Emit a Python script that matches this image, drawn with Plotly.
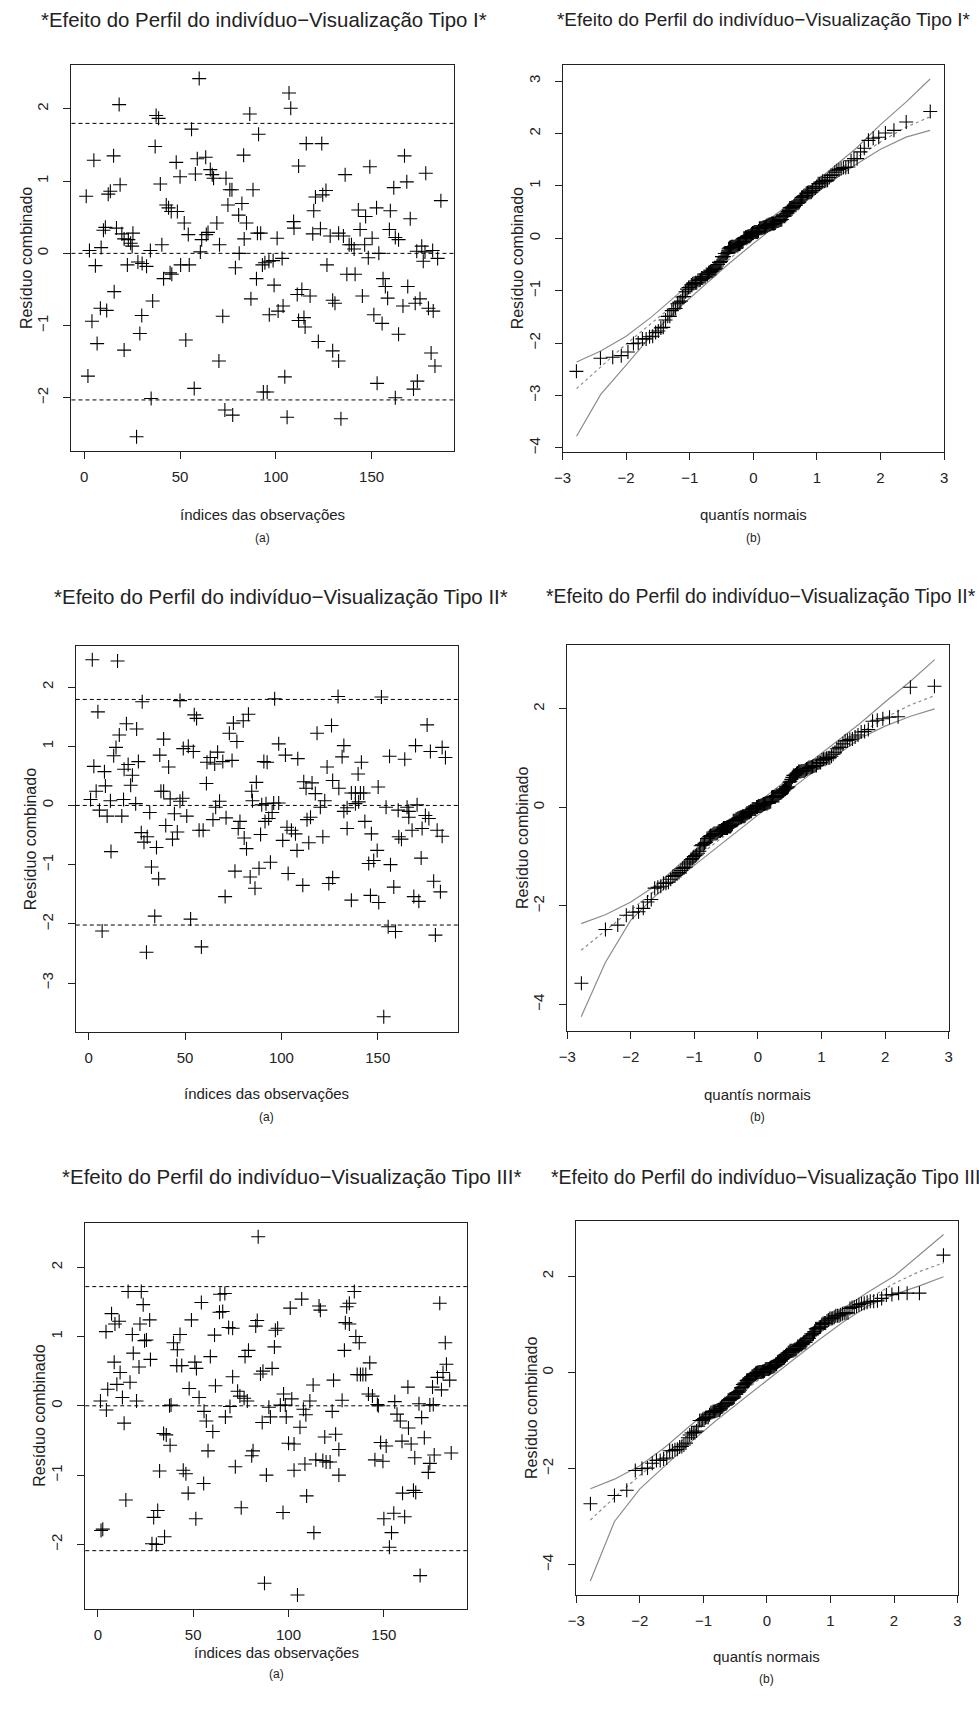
import plotly.graph_objects as go
from statistics import NormalDist

# ---------------- data ----------------
# Tipo I : (índice, resíduo)
pts_I = [(1,0.79),(1.9,-1.70),(2.7,0.04),(4,-0.94),(5,1.29),(5.8,-0.17),(6.7,-1.25),(8.4,-0.76),(8.8,0.08),(10,0.32),
 (11,0.36),(11.7,-0.79),(12.5,0.82),(13.6,0.86),(15.3,1.35),(15.6,-0.53),(16.8,0.35),(18.2,2.06),(18.7,0.95),(19.6,0.27),
 (20.8,-1.34),(20.8,0.20),(22.5,-0.16),(23,0.19),(24.2,0.14),(25.4,0.28),(25,0.10),(27.3,-2.54),(28,-0.12),(29,-1.11),
 (30,-0.86),(30.2,-0.14),(32.5,-0.18),(34.5,0.04),(34.9,-2.01),(35.7,-0.66),(37,1.48),(37.5,1.91),(38.8,1.87),(39.7,0.96),
 (40.5,0.12),(41.4,-0.35),(42.8,0.67),(44,0.63),(44.8,-0.27),(45.7,-0.29),(45.4,0.58),(48,1.26),(48.6,0.58),(50,1.06),
 (50.3,-0.16),(52.2,0.42),(53,-1.20),(54.3,0.26),(54.8,-0.16),(56,1.72),(57.4,-1.87),(58,1.10),(59,1.31),(60,2.42),
 (60.6,0.02),(61.3,0.19),(63.4,1.33),(63.7,0.26),(64.6,0.29),(65.8,1.16),(66.8,1.09),(67.5,1.04),(69.2,0.42),(70.6,0.12),
 (70.3,-1.49),(72.3,-0.87),(73.4,-2.17),(74,1.04),(75,0.67),(76,0.88),(77.5,-2.24),(77.1,0.88),(78.9,-0.20),(80.6,0.53),
 (80.9,0.0),(82.3,0.69),(83.2,1.36),(83.5,0.20),(84.7,0.42),(86.4,1.93),(87,-0.63),(88.1,0.88),(89.9,-0.35),(90.4,0.28),
 (91,1.65),(92.1,0.28),(93,-0.16),(93.5,-1.92),
 (94.3,-0.13),(96.4,-0.11),(98.6,-0.10),(103.3,-0.07),(100.7,0.21),(99.1,-0.44),(96.6,-0.85),(101.2,-0.80),(103.8,-0.73),(95.5,-1.92),
 (104.7,-1.71),(105.9,-2.27),(106.9,2.22),(107.8,2.01),(111.9,1.21),(109.3,0.44),(109.5,0.35),(111.2,-0.57),(113.6,-0.50),(117.9,-0.59),
 (111.9,-0.93),(114.7,-0.89),(115.3,-1.02),(115.9,1.52),(124,1.52),(119.3,0.27),(119.8,0.59),(120.7,0.78),(124.5,0.81),(126.2,0.87),
 (123.3,0.34),(122.2,-1.22),(126.7,-0.16),(128.4,0.24),(132.8,0.28),(135.3,0.24),(138.3,0.12),(139.5,0.12),(140.9,0.06),(129.7,-0.65),
 (130.9,-0.69),(129.7,-1.35),(132.8,-1.49),(134,-2.29),(136.2,1.09),(137.1,-0.29),(141.4,-0.29),(143.1,0.60),(146.9,0.51),(144,0.33),
 (146.4,0.12),(148.3,-0.06),(150.3,0.21),(145.2,-0.59),(149.1,1.20),(152.6,0.63),(151.2,-0.85),(155.5,-0.97),(152.9,-1.80),(153.8,0.0),
 (156,-0.35),(157.2,-0.46),(158.4,-0.62),(159.8,0.59),(161.6,0.91),(159.3,0.33),(162.4,0.22),(164.1,0.19),(162.4,-2.00),(164.1,-1.12),
 (166.4,-0.73),(167.2,1.35),(168.4,0.99),(168.9,-0.46),(170.2,0.48),(171.9,-1.88),(173.9,-1.77),(172.8,-0.69),(175.3,-0.63),(173.6,0.03),
 (176.2,0.10),(177.9,0.02),(177,-0.11),(178.3,1.11),(179.7,-0.76),(182.2,-0.80),(181.1,-1.38),(183.1,-1.56),(181.9,0.04),(184.5,-0.07),
 (186.2,0.73)]

# Tipo II
pts_II = [(1.9,2.46),(15,2.44),(4.8,1.58),(2.7,0.66),(1,0.10),(3.9,0.24),(5.6,-0.08),(8.2,0.57),(8.7,0.33),(7,-2.12),
 (9.6,-0.18),(11.3,0.08),(11.6,-0.78),(13,0.84),(14.2,0.98),(15.9,1.19),(17.2,-0.18),(18.1,0.10),(18.4,0.61),(19.6,1.38),
 (20.5,0.69),(21.8,0.34),(22.7,0.51),(24.4,0.03),(24.9,1.29),(25.8,0.74),(27.3,-0.46),(28.7,-0.62),(30.4,-0.53),(35.2,-0.71),
 (27.8,1.75),(30,-2.48),(31.7,-0.12),(32.6,-1.04),(34.3,-1.87),(36.3,-1.24),(36.9,0.85),(37.5,0.24),(38.9,0.24),(38.9,1.12),
 (40,-0.34),(41.5,0.65),(42.3,0.11),(43.5,-0.57),(44.5,-0.14),(46,-0.45),(47.4,1.77),(47.4,0.07),(48.8,0.12),(49.1,0.96),
 (50.9,-0.18),(51.7,1.0),(52.9,-1.92),(54.3,0.91),(54.8,1.53),(56,1.47),(57.3,-0.42),(58.5,-2.39),(59.4,-0.42),(61.1,0.37),
 (61.4,0.73),(63.1,0.81),(64.5,-0.24),(65.4,0.70),(65.9,-0.03),(66.9,0.90),(67.9,0.07),(69.6,0.74),(70.8,-1.54),(71.3,-0.21),
 (73,1.22),(74.4,0.76),(75.1,1.39),(75.9,-1.11),(76.9,1.08),(78.5,-0.27),(77.6,-0.39),(80.2,1.43),(80.7,-0.55),(81.9,-0.73),
 (82.9,1.54),(83.8,-1.21),(84.6,0.24),(85,0.08),(86.3,-1.40),(87,0.39),(88.4,-1.06),(89.2,-0.49),(89.8,0.01),(90.9,0.74),
 (91.5,-0.27),
 (94.3,-0.96),(92,0.03),(96,0.04),(98.6,0.04),(93.4,-0.22),(95.2,-0.12),(96.5,1.80),(98.6,1.04),(92.6,0.73),(102.1,0.85),
 (108.5,0.79),(100.7,-0.59),(102.9,-0.37),(105.2,-0.42),(107.3,-0.48),(108.1,-0.76),(103.5,-1.15),(111.1,-1.35),(114.2,-0.63),(113.3,-0.24),
 (115.1,-0.20),(111.6,0.40),(112.8,0.29),(115.9,0.38),(117.6,0.20),(118.5,1.22),(120.2,-0.03),(122.5,0.08),(121.5,-0.53),(123.7,0.65),
 (126,1.35),(126.6,0.42),(129.8,0.29),(124.6,-1.32),(126.6,-1.22),(129.4,1.84),(131.5,0.82),(132.4,1.01),(132.4,-0.10),(134.1,-0.04),
 (134.1,-0.39),(136.3,-1.60),(136.3,0.21),(138.4,0.21),(139.8,0.53),(141.5,0.73),(138.4,0.03),(140.1,0.06),(141,0.21),(142.7,0.21),
 (143.3,-0.27),(146.7,-0.48),(150.2,0.31),(146.2,-1.52),(150.5,-1.64),(145.3,-0.98),(147.9,-0.93),(149.7,-0.76),(151.9,1.83),(153.1,-3.57),
 (154.3,-0.03),(155.4,-2.05),(159.2,-2.13),(156.6,-1.00),(156.1,0.83),(158.3,-1.38),(160.6,-0.08),(160.9,-0.53),(162.3,-0.57),(164,0.78),
 (165.2,-0.03),(166.1,-0.10),(166.1,-0.20),(167.8,-0.42),(169.6,1.01),(168.7,-1.54),(170.4,0.01),(171.3,-1.62),(172.5,-0.89),(173,-0.39),
 (174.7,-0.17),(176.5,-0.22),(175.6,1.36),(177.3,0.91),(179,-1.28),(179.9,-2.19),(180.8,-0.42),(183.4,-0.52),(182.5,-1.46),(183.4,0.98),
 (185.1,0.81)]

# Tipo III
pts_III = [(1.4,0.07),(1.7,-1.80),(2.6,-1.78),(4.3,1.07),(4.5,-0.06),(5.2,0.24),(7.2,1.33),(8.6,0.63),(9,1.18),(11.2,1.22),
 (10,0.31),(11.7,0.48),(12.9,0.12),(13.8,-0.25),(14.7,-1.36),(15.9,1.65),(16.9,0.34),(18.1,1.03),(18.6,0.76),(20.3,0.07),
 (21.6,0.56),(22.1,1.18),(22.8,1.65),(23.8,1.46),(24.5,0.94),(25.5,0.95),(27.2,1.24),(27.6,0.67),(28.4,-1.99),(30.7,-2.00),
 (29.3,-1.61),(31.4,-1.51),(32.4,-0.94),(34.5,-0.40),(35.9,-0.42),(35,-1.89),(37.6,0.0),(38.4,0.01),(37.9,-0.57),(39.7,0.91),
 (41.7,0.81),(41.4,0.58),(44,0.58),(43.1,1.03),(44.8,-0.93),(46.2,-0.98),(47.4,-1.26),(47.9,0.25),(49.1,1.24),(50.9,0.63),
 (51.7,0.54),(51.4,-1.63),(53.1,0.12),(54.3,1.49),(55.7,-0.08),(55.5,-1.12),(56.9,-0.22),(57.8,-0.65),(59,0.71),(60.3,-0.37),
 (61.2,1.02),(61.7,0.29),(64.1,1.61),(66.6,1.62),(63.8,1.35),(65.5,1.36),(66.9,-0.16),(68.6,1.13),(70.7,1.12),(69.3,-0.01),
 (70.7,0.42),(72.1,-0.88),(73.3,0.21),(74.5,0.14),(75.2,-1.47),(76.7,0.11),(78.4,0.07),(77.2,0.71),(79,0.80),(80.7,-0.72),
 (81.4,-0.65),(82.8,1.15),(83.6,1.23),(84.1,2.44),(85.3,0.46),(86.6,0.50),(86.2,-0.24),
 (87.4,-2.56),(88.4,-1.00),(89.7,-0.02),(90.5,-0.16),(91.4,0.54),(92.6,0.85),(93.1,1.09),(94.3,1.12),(95.7,0.01),(98.3,0.01),
 (97.1,-1.54),(97.4,0.17),(98.8,-0.16),(100,-0.54),(102.9,-0.55),(100.9,1.41),(101.7,0.10),(102.9,-0.93),(104.7,-2.73),(106,-0.31),
 (106.9,1.54),(107.8,-0.05),(109.1,-0.13),(108.6,-0.84),(109.5,-1.30),(111.2,0.07),(112.9,0.30),(113.3,-1.83),(114.3,-0.78),(118,-0.79),
 (119.7,-0.81),(121.8,-0.81),(116,1.44),(116.7,1.38),(119,-0.45),(124.7,-0.41),(122.9,-0.08),(123.6,0.37),(126.4,-0.63),(126.4,-1.00),
 (128.1,0.08),(129.3,0.80),(129.8,1.20),(131.9,1.18),(130.5,1.43),(131.9,1.48),(134.5,1.65),(135.3,1.00),(137.1,0.91),(136,0.45),
 (137.7,0.45),(139,0.45),(140.5,0.45),(142.6,0.62),(141.9,0.17),(144,0.14),(146.6,0.02),(147.1,0.0),(145.3,-0.78),(149.5,-0.80),
 (148.3,-0.53),(151.2,-0.58),(150,-1.63),(155.2,-1.55),(160.9,-1.60),(154,-1.83),(152.9,-2.04),(155.7,0.06),(156.9,-0.12),(158.6,-0.22),
 (159.5,-0.51),(164.3,-0.55),(159.8,-1.26),(162.6,0.27),(162.9,-0.32),(165.5,-1.22),(166.7,-1.25),(166.2,-0.75),(169,-2.45),(168.4,0.03),
 (169.8,-0.17),(171.2,-0.46),(173.3,-0.96),(174.1,-0.83),(174.1,0.01),(175.9,0.02),(175.5,0.27),(178.1,0.41),(180.2,0.23),(176.4,-0.71),
 (179.3,1.48),(181,0.48),(182.8,0.60),(184.5,0.37),(182.2,0.91),(185.3,-0.68)]

# dashed reference levels in the index plots
ref_I = [1.80, 0.0, -2.03]
ref_II = [1.79, 0.0, -2.02]
ref_III = [1.72, 0.0, -2.09]

# simulated envelope (read at these normal quantiles)
env_q = [-2.78, -2.4, -2.0, -1.6, -1.2, -0.8, -0.4, 0, 0.4, 0.8, 1.2, 1.6, 2.0, 2.4, 2.78]
env_I_med = [-2.87, -2.45, -2.02, -1.62, -1.22, -0.82, -0.41, -0.01, 0.39, 0.79, 1.18, 1.52, 1.84, 2.12, 2.32]
env_I_up = [-2.36, -2.15, -1.87, -1.50, -1.08, -0.70, -0.28, 0.12, 0.50, 0.90, 1.30, 1.70, 2.17, 2.60, 3.04]
env_I_lo = [-3.78, -2.98, -2.42, -1.85, -1.36, -0.93, -0.50, -0.10, 0.28, 0.68, 1.06, 1.40, 1.70, 1.93, 2.06]
env_II_med = [-2.90, -2.50, -2.08, -1.67, -1.26, -0.85, -0.44, -0.03, 0.37, 0.77, 1.15, 1.50, 1.82, 2.08, 2.27]
env_II_up = [-2.36, -2.18, -1.92, -1.58, -1.12, -0.70, -0.30, 0.10, 0.50, 0.90, 1.30, 1.70, 2.14, 2.56, 3.00]
env_II_lo = [-4.25, -3.15, -2.29, -1.78, -1.38, -0.97, -0.56, -0.15, 0.25, 0.65, 1.03, 1.40, 1.65, 1.85, 2.00]
env_III_med = [-3.07, -2.60, -2.14, -1.70, -1.27, -0.85, -0.43, -0.01, 0.40, 0.80, 1.18, 1.53, 1.85, 2.10, 2.28]
env_III_up = [-2.42, -2.22, -1.94, -1.55, -1.10, -0.68, -0.26, 0.14, 0.55, 0.95, 1.33, 1.68, 2.00, 2.44, 2.87]
env_III_lo = [-4.34, -3.10, -2.42, -1.93, -1.45, -1.00, -0.58, -0.16, 0.25, 0.66, 1.05, 1.39, 1.62, 1.80, 1.99]

titles = ["*Efeito do Perfil do indivíduo\u2212Visualização Tipo I*",
          "*Efeito do Perfil do indivíduo\u2212Visualização Tipo II*",
          "*Efeito do Perfil do indivíduo\u2212Visualização Tipo III*"]
xlab_idx = "índices das observações"
xlab_qq = "quantís normais"
ylab = "Resíduo combinado"

# ---------------- layout helpers (pixel geometry) ----------------
W, H = 979, 1709
def px(x):
    return x / W
def py(y):
    return 1 - y / H

FONT = "Liberation Sans, Arial, sans-serif"
TXT = "#222222"

# (left, right, top, bottom) frames in pixels
frames = {
    "I_a": (63.3, 450.7, 65, 452), "I_b": (561, 947.7, 65, 452.3),
    "II_a": (67.7, 455, 646.7, 1034), "II_b": (565.7, 952.3, 646, 1033.3),
    "III_a": (77.3, 464, 1225, 1611.7), "III_b": (575, 961.3, 1222.7, 1598.3),
}
xranges = {"I_a": [-6.7, 192.9], "II_a": [-6.66, 191.6], "III_a": [-6.57, 193.5]}
yranges = {"I_a": [-2.74, 2.61], "II_a": [-3.83, 2.70], "III_a": [-2.93, 2.64],
           "I_b": [-4.07, 3.31], "II_b": [-4.55, 3.30], "III_b": [-4.64, 3.16]}
yticks = {"I_a": [-2, -1, 0, 1, 2], "II_a": [-3, -2, -1, 0, 1, 2], "III_a": [-2, -1, 0, 1, 2],
          "I_b": [-4, -3, -2, -1, 0, 1, 2, 3], "II_b": [-4, -2, 0, 2], "III_b": [-4, -2, 0, 2]}

fig = go.Figure()
layout = dict(width=W, height=H, autosize=False, margin=dict(l=0, r=0, t=0, b=0),
              paper_bgcolor="white", plot_bgcolor="white", showlegend=False,
              font=dict(family=FONT, color=TXT))
shapes, annotations = [], []

marker = dict(symbol="cross-thin", size=10, color="black", line=dict(color="black", width=1.1))

def add_axes(k, key, xr, xt):
    l, r, t, b = frames[key]
    common = dict(showline=True, mirror=True, linecolor="#222", linewidth=1, ticks="outside",
                  ticklen=7, tickwidth=1, tickcolor="#222", showgrid=False, zeroline=False,
                  tickfont=dict(size=15, color=TXT, family=FONT))
    sx = "" if k == 1 else str(k)
    layout["xaxis" + sx] = dict(common, domain=[px(l), px(r)], range=xr, tickvals=xt,
                                anchor="y" + sx, ticklabelstandoff=5)
    layout["yaxis" + sx] = dict(common, domain=[py(b), py(t)], range=yranges[key], tickvals=yticks[key],
                                anchor="x" + sx, tickangle=-90, ticklabelstandoff=9)
    return ("x" + sx, "y" + sx)

panels = [("I", pts_I, ref_I, env_I_med, env_I_up, env_I_lo),
          ("II", pts_II, ref_II, env_II_med, env_II_up, env_II_lo),
          ("III", pts_III, ref_III, env_III_med, env_III_up, env_III_lo)]

# (x_left, y_center, font size) for left and right titles of each row
title_pos = {"I": ((30.5, 20, 20.4), (553, 20, 18.9)),
             "II": ((43.6, 597.5, 20.5), (542, 597.5, 19.4)),
             "III": ((51.2, 1179, 20.5), (547, 1179, 19.5))}
xlab_y = {"I": ((515, 539), (515, 539)), "II": ((1095, 1119), (1096, 1119)),
          "III": ((1655, 1677), (1659, 1682))}

k = 1
for i, (name, pts, refs, med, up, lo) in enumerate(panels):
    idx = [p[0] for p in pts]
    res = [p[1] for p in pts]
    # ---- (a) index plot ----
    ka = "%s_a" % name
    xa, ya = add_axes(k, ka, xranges[ka], [0, 50, 100, 150]); k += 1
    for v in refs:
        shapes.append(dict(type="line", xref=xa + " domain", yref=ya, x0=0, x1=1, y0=v, y1=v,
                           line=dict(color="black", width=1, dash="4px,3px")))
    fig.add_trace(go.Scatter(x=idx, y=res, mode="markers", marker=marker, xaxis=xa, yaxis=ya,
                             hoverinfo="x+y"))
    # ---- (b) normal QQ plot with envelope ----
    kb = "%s_b" % name
    xb, yb = add_axes(k, kb, [-3, 3], [-3, -2, -1, 0, 1, 2, 3]); k += 1
    n = len(res)
    qs = [NormalDist().inv_cdf((j + 0.5) / n) for j in range(n)]
    srt = sorted(res)
    for line, dash in ((up, "solid"), (lo, "solid"), (med, "dot")):
        fig.add_trace(go.Scatter(x=env_q, y=line, mode="lines", xaxis=xb, yaxis=yb,
                                 line=dict(color="#8c8c8c", width=1.2, dash=dash), hoverinfo="skip"))
    fig.add_trace(go.Scatter(x=qs, y=srt, mode="markers", marker=marker, xaxis=xb, yaxis=yb))

    # ---- texts ----
    for tx, ty, fs in title_pos[name]:
        annotations.append(dict(text=titles[i], x=px(tx), y=py(ty), xref="paper", yref="paper",
                                xanchor="left", yanchor="middle", showarrow=False,
                                font=dict(size=fs, color=TXT, family=FONT)))
    for key, lab, cap, (ly, cy) in ((ka, xlab_idx, "(a)", xlab_y[name][0]), (kb, xlab_qq, "(b)", xlab_y[name][1])):
        l, r, t, b = frames[key]
        cx = (l + r) / 2
        annotations.append(dict(text=lab, x=px(cx), y=py(ly), xref="paper", yref="paper",
                                xanchor="center", yanchor="middle", showarrow=False,
                                font=dict(size=15, color=TXT, family=FONT)))
        annotations.append(dict(text=cap, x=px(cx), y=py(cy), xref="paper", yref="paper",
                                xanchor="center", yanchor="middle", showarrow=False,
                                font=dict(size=12, color=TXT, family=FONT)))
        annotations.append(dict(text=ylab, x=px(l - 46), y=py((t + b) / 2), xref="paper", yref="paper",
                                xanchor="center", yanchor="middle", showarrow=False, textangle=-90,
                                font=dict(size=16, color=TXT, family=FONT)))

layout["shapes"] = shapes
layout["annotations"] = annotations
fig.update_layout(**layout)
# the page body keeps no default margin, so the 979x1709 figure fills the window exactly
fig.write_html("out.html", config={"displayModeBar": False},
               post_script="document.body.style.margin='0px';document.body.style.overflow='hidden';")
